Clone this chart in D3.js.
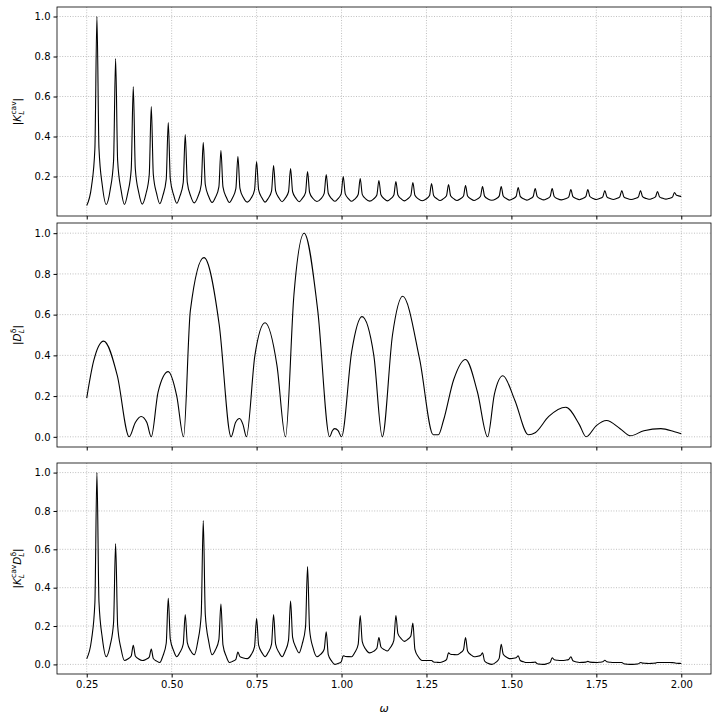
<!DOCTYPE html>
<html>
<head>
<meta charset='utf-8'>
<script src='https://cdn.jsdelivr.net/npm/d3@7'></script>
<style>body{margin:0;font-family:'DejaVu Sans',sans-serif}</style>
</head>
<body>
<svg width='717' height='718'></svg>
<script>
// resonance positions of K^cav (shared by panels 1 and 3)
const peakW = [0.28,0.335,0.387,0.44,0.49,0.54,0.593,0.645,0.695,0.75,0.80,0.85,0.90,0.955,1.005,1.055,1.11,1.16,1.21,1.265,1.315,1.365,1.415,1.47,1.52,1.57,1.62,1.675,1.725,1.775,1.825,1.88,1.93,1.98]
const kPeak = [1.0,0.79,0.65,0.55,0.47,0.41,0.37,0.33,0.30,0.275,0.255,0.24,0.225,0.21,0.20,0.19,0.18,0.175,0.17,0.165,0.16,0.155,0.15,0.15,0.145,0.14,0.14,0.135,0.135,0.13,0.13,0.13,0.125,0.12]
const kTrough = [0.055,0.06,0.06,0.062,0.064,0.066,0.068,0.07,0.07,0.072,0.072,0.074,0.074,0.075,0.076,0.076,0.077,0.078,0.078,0.079,0.08,0.08,0.08,0.081,0.082,0.082,0.083,0.083,0.084,0.085,0.085,0.085,0.086,0.087,0.10]
const pPeak = [1.0,0.63,0.10,0.08,0.345,0.26,0.75,0.315,0.065,0.24,0.26,0.33,0.51,0.17,0.045,0.255,0.14,0.255,0.215,0.02,0.06,0.14,0.06,0.105,0.045,0.012,0.035,0.04,0.016,0.022,0.01,0.01,0.01,0.008]
const pTrough = [0.03,0.04,0.02,0.02,0.01,0.04,0.05,0.05,0.01,0.03,0.04,0.04,0.06,0.04,0.0,0.04,0.06,0.07,0.12,0.02,0.01,0.05,0.04,0.0,0.03,0.01,0.0,0.02,0.01,0.01,0.01,0.0,0.005,0.01,0.005]
// |D_L^delta|
const dW = [0.25,0.27,0.30,0.34,0.375,0.393,0.41,0.427,0.44,0.46,0.49,0.515,0.535,0.555,0.595,0.64,0.675,0.688,0.70,0.71,0.72,0.745,0.775,0.81,0.835,0.86,0.89,0.93,0.965,0.973,0.98,0.99,1.0,1.03,1.06,1.095,1.12,1.15,1.18,1.23,1.27,1.285,1.30,1.33,1.365,1.40,1.43,1.45,1.475,1.51,1.55,1.57,1.61,1.66,1.70,1.72,1.75,1.78,1.82,1.85,1.89,1.94,1.98,2.0]
const dV = [0.19,0.37,0.47,0.30,0.0,0.07,0.10,0.07,0.0,0.22,0.32,0.2,0.0,0.62,0.88,0.55,0.0,0.07,0.09,0.06,0.0,0.40,0.56,0.35,0.0,0.7,1.0,0.62,0.0,0.03,0.04,0.03,0.0,0.42,0.59,0.40,0.0,0.5,0.69,0.38,0.01,0.01,0.08,0.28,0.38,0.22,0.0,0.21,0.30,0.18,0.01,0.02,0.10,0.145,0.06,0.0,0.055,0.08,0.04,0.005,0.03,0.04,0.025,0.015]
const xTicks = [0.25,0.5,0.75,1.0,1.25,1.5,1.75,2.0]

// build a peaked curve from listed resonances
function peaked(heights, troughs) {
  const pts = [[0.25, troughs[0]]]
  peakW.forEach((w, i) => {
    const a = troughs[i], b = troughs[i + 1], h = heights[i]
    pts.push([w - 0.016, a + 0.1 * (h - a)], [w - 0.006, a + 0.3 * (h - a)], [w, h],
      [w + 0.006, b + 0.3 * (h - b)], [w + 0.016, b + 0.1 * (h - b)])
    const nx = i + 1 < peakW.length ? (w + peakW[i + 1]) / 2 : 2.0
    pts.push([nx, b])
  })
  return pts
}

const svg = d3.select('svg')
const left = 57, right = 711
const x = d3.scaleLinear().domain([0.1625, 2.0875]).range([left, right])
const panels = [
  { top: 7, bottom: 216, yd: [0.0025, 1.0475], ticks: [0.2,0.4,0.6,0.8,1.0], data: peaked(kPeak, kTrough), curve: d3.curveMonotoneX, lab: [['|',''],['K','i'],['L','sub','cav'],['|','']] },
  { top: 223, bottom: 447, yd: [-0.05, 1.05], ticks: [0,0.2,0.4,0.6,0.8,1.0], data: dW.map((w, i) => [w, dV[i]]), curve: d3.curveMonotoneX, lab: [['|',''],['D','i'],['L','sub','δ'],['|','']] },
  { top: 463, bottom: 674, yd: [-0.05, 1.05], ticks: [0,0.2,0.4,0.6,0.8,1.0], data: peaked(pPeak, pTrough), curve: d3.curveMonotoneX, lab: [['|',''],['K','i'],['L','sub','cav'],['D','i'],['L','sub','δ'],['|','']] }
]

panels.forEach((p, k) => {
  const y = d3.scaleLinear().domain(p.yd).range([p.bottom, p.top])
  const g = svg.append('g')
  g.selectAll('.gx').data(xTicks).join('line').attr('x1', d => x(d)).attr('x2', d => x(d))
    .attr('y1', p.top).attr('y2', p.bottom).attr('stroke', '#b0b0b0').attr('stroke-width', 0.8).attr('stroke-dasharray', '1,1.6')
  g.selectAll('.gy').data(p.ticks).join('line').attr('y1', d => y(d)).attr('y2', d => y(d))
    .attr('x1', left).attr('x2', right).attr('stroke', '#b0b0b0').attr('stroke-width', 0.8).attr('stroke-dasharray', '1,1.6')
  g.append('path').datum(p.data).attr('fill', 'none').attr('stroke', 'black').attr('stroke-width', 1.1)
    .attr('d', d3.line().x(d => x(d[0])).y(d => y(d[1])).curve(p.curve))
  g.append('rect').attr('x', left).attr('y', p.top).attr('width', right - left).attr('height', p.bottom - p.top)
    .attr('fill', 'none').attr('stroke', 'black').attr('stroke-width', 0.8)
  const ya = g.append('g').attr('transform', `translate(${left},0)`)
    .call(d3.axisLeft(y).tickValues(p.ticks).tickFormat(d3.format('.1f')).tickSize(3.5).tickSizeOuter(0))
  ya.select('.domain').remove()
  ya.selectAll('text').attr('font-size', 10).attr('fill', 'black').attr('font-family', 'DejaVu Sans')
  const xa = g.append('g').attr('transform', `translate(0,${p.bottom})`)
    .call(d3.axisBottom(x).tickValues(xTicks).tickFormat(k === 2 ? d3.format('.2f') : '').tickSize(3.5).tickSizeOuter(0))
  xa.select('.domain').remove()
  xa.selectAll('text').attr('font-size', 10).attr('fill', 'black').attr('font-family', 'DejaVu Sans')
  const t = g.append('text').attr('transform', `translate(21,${(p.top + p.bottom) / 2}) rotate(-90)`)
    .attr('text-anchor', 'middle').attr('font-size', 10.5)
  p.lab.forEach(([s, st, sup]) => {
    if (st === 'sub') {
      t.append('tspan').text(s).attr('font-style', 'italic').attr('font-size', 7.5).attr('dy', 3)
      t.append('tspan').text(sup).attr('font-size', 7.5).attr('dx', -4).attr('dy', -8)
      t.append('tspan').text('\u200b').attr('dy', 5)
    } else {
      const ts = t.append('tspan').text(s)
      if (st === 'i') ts.attr('font-style', 'italic')
    }
  })
})
svg.append('text').attr('x', x(1.125)).attr('y', 712).attr('text-anchor', 'middle')
  .attr('font-style', 'italic').attr('font-size', 11).text('ω')
</script>
</body>
</html>
